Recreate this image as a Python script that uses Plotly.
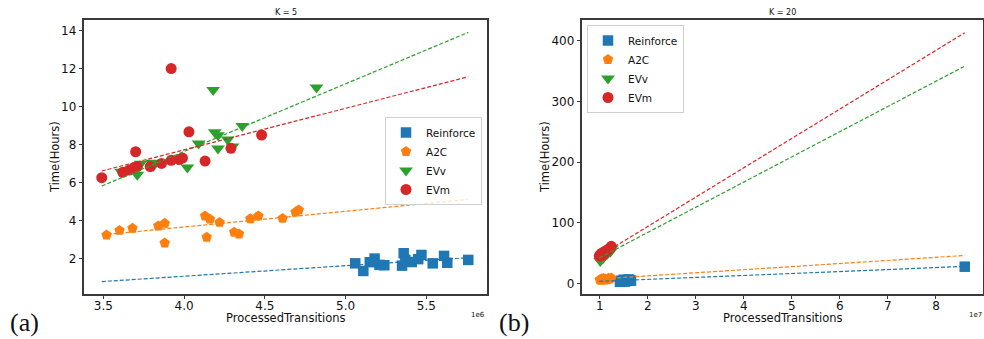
import plotly.graph_objects as go

# ---------------- data: K = 5 (x in units of 1e6 transitions) ----------------
series_names = ["Reinforce", "A2C", "EVv", "EVm"]
series_colors = ["#1f77b4", "#ff7f0e", "#2ca02c", "#d62728"]
series_symbols = ["square", "pentagon", "triangle-down", "circle"]
series_sizes = [10.5, 11, 12, 11]

reinforce_k5_x = [5.06, 5.11, 5.15, 5.18, 5.21, 5.24, 5.36, 5.35, 5.37, 5.41, 5.45, 5.47, 5.54, 5.61, 5.63, 5.76]
reinforce_k5_y = [1.77, 1.37, 1.83, 2.02, 1.69, 1.67, 2.30, 1.65, 1.95, 1.84, 1.99, 2.21, 1.77, 2.16, 1.80, 1.95]

a2c_k5_x = [3.52, 3.60, 3.68, 3.84, 3.88, 3.88, 4.13, 4.16, 4.14, 4.22, 4.31, 4.34, 4.41, 4.46, 4.61, 4.69, 4.71]
a2c_k5_y = [3.26, 3.50, 3.61, 3.73, 3.87, 2.84, 4.26, 4.09, 3.14, 3.92, 3.40, 3.31, 4.11, 4.26, 4.13, 4.46, 4.57]

evv_k5_x = [3.61, 3.71, 3.73, 3.80, 3.81, 4.02, 4.09, 4.18, 4.19, 4.21, 4.21, 4.27, 4.30, 4.36, 4.82]
evv_k5_y = [6.58, 6.42, 7.00, 7.05, 6.90, 6.80, 8.07, 10.87, 8.65, 8.50, 7.80, 8.28, 7.90, 8.98, 11.00]

evm_k5_x = [3.49, 3.62, 3.66, 3.69, 3.71, 3.70, 3.79, 3.86, 3.92, 3.92, 3.97, 3.99, 4.03, 4.13, 4.29, 4.48]
evm_k5_y = [6.27, 6.55, 6.67, 6.79, 6.85, 7.63, 6.85, 7.02, 12.00, 7.18, 7.22, 7.30, 8.68, 7.14, 7.81, 8.51]

# linear trend values at the left / right end of the data span
k5_trend_lo = [0.81, 3.26, 5.83, 6.62]
k5_trend_hi = [2.07, 5.13, 13.90, 11.57]

# ---------------- data: K = 20 (x in units of 1e7 transitions) ----------------
reinforce_k20_x = [1.42, 1.45, 1.47, 1.50, 1.52, 1.55, 1.57, 1.60, 1.62, 1.65, 8.60]
reinforce_k20_y = [2.5, 4.5, 3.5, 6.0, 3.0, 5.0, 4.0, 6.5, 5.5, 4.5, 27.5]

a2c_k20_x = [1.00, 1.02, 1.04, 1.06, 1.08, 1.10, 1.12, 1.15, 1.18, 1.21, 1.24]
a2c_k20_y = [6.0, 5.0, 7.5, 6.5, 8.0, 5.5, 7.0, 6.0, 8.5, 7.0, 9.0]

evv_k20_x = [1.01, 1.03, 1.05, 1.07, 1.09, 1.11, 1.13, 1.16, 1.19, 1.22, 1.25]
evv_k20_y = [37, 44, 48, 42, 51, 46, 53, 49, 55, 52, 58]

evm_k20_x = [0.99, 1.01, 1.03, 1.05, 1.07, 1.09, 1.11, 1.13, 1.16, 1.19, 1.22, 1.24]
evm_k20_y = [45, 47, 49, 46, 51, 49, 53, 52, 55, 57, 58, 61]

k20_trend_lo = [3.3, 7.2, 42.0, 45.0]
k20_trend_hi = [28.0, 46.0, 358.0, 413.0]

k5_x_ticks = [3.5, 4.0, 4.5, 5.0, 5.5]
k5_y_ticks = [2, 4, 6, 8, 10, 12, 14]
k20_x_ticks = [1, 2, 3, 4, 5, 6, 7, 8]
k20_y_ticks = [0, 100, 200, 300, 400]

# ---------------- figure ----------------
W, H = 984, 339
FONT = "DejaVu Sans"
AX_COLOR = "#3a3a3a"

fig = go.Figure()

panels = [
    dict(xs=[reinforce_k5_x, a2c_k5_x, evv_k5_x, evm_k5_x],
         ys=[reinforce_k5_y, a2c_k5_y, evv_k5_y, evm_k5_y],
         lo=k5_trend_lo, hi=k5_trend_hi, xa="x", ya="y", legend="legend"),
    dict(xs=[reinforce_k20_x, a2c_k20_x, evv_k20_x, evm_k20_x],
         ys=[reinforce_k20_y, a2c_k20_y, evv_k20_y, evm_k20_y],
         lo=k20_trend_lo, hi=k20_trend_hi, xa="x2", ya="y2", legend="legend2"),
]

for p in panels:
    all_x = [v for xs in p["xs"] for v in xs]
    x_span = [min(all_x), max(all_x)]
    for i, name in enumerate(series_names):
        fig.add_trace(go.Scatter(
            x=p["xs"][i], y=p["ys"][i], mode="markers", name=name,
            marker=dict(symbol=series_symbols[i], size=series_sizes[i],
                        color=series_colors[i], line=dict(width=0)),
            xaxis=p["xa"], yaxis=p["ya"], legend=p["legend"], showlegend=True,
        ))
    for i, name in enumerate(series_names):
        fig.add_trace(go.Scatter(
            x=x_span, y=[p["lo"][i], p["hi"][i]], mode="lines",
            line=dict(color=series_colors[i], width=1.2, dash="4px,2px"),
            xaxis=p["xa"], yaxis=p["ya"], showlegend=False, hoverinfo="skip",
        ))

# plot-area rectangles in pixels
L1, R1 = 84, 487
L2, R2 = 582, 983
TOP, BOT = 20, 294

def px_x(v):
    return v / W

def px_y(v):
    return 1 - v / H

axis_common = dict(
    showline=True, mirror=True, linecolor=AX_COLOR, linewidth=1.5,
    ticks="outside", ticklen=3.5, tickwidth=1, tickcolor=AX_COLOR,
    showgrid=False, zeroline=False,
    tickfont=dict(family=FONT, size=12, color="#111"),
)

legend_common = dict(
    xanchor="left", yanchor="top",
    bgcolor="rgba(255,255,255,0.8)", bordercolor="#d0d0d0", borderwidth=1,
    font=dict(family=FONT, size=10.5, color="#111"), itemwidth=30, tracegroupgap=0,
)

fig.update_layout(
    width=W, height=H,
    margin=dict(l=0, r=0, t=0, b=0),
    paper_bgcolor="white", plot_bgcolor="white",
    font=dict(family=FONT, size=11, color="#111"),
    xaxis=dict(domain=[px_x(L1), px_x(R1)], range=[3.38, 5.876], anchor="y",
               tickvals=k5_x_ticks, tickformat=".1f", ticklabelstandoff=-4, **axis_common),
    yaxis=dict(domain=[px_y(BOT), px_y(TOP)], range=[0.16, 14.55], anchor="x",
               tickvals=k5_y_ticks, **axis_common),
    xaxis2=dict(domain=[px_x(L2), px_x(R2)], range=[0.63, 8.98], anchor="y2",
                tickvals=k20_x_ticks, ticklabelstandoff=-4, **axis_common),
    yaxis2=dict(domain=[px_y(BOT), px_y(TOP)], range=[-17.5, 434], anchor="x2",
                tickvals=k20_y_ticks, **axis_common),
    legend=dict(x=px_x(385), y=px_y(117), **legend_common),
    legend2=dict(x=px_x(587), y=px_y(25), **legend_common),
)

annotations = []

def text(x, y, s, size, **kw):
    d = dict(x=px_x(x), y=px_y(y), xref="paper", yref="paper", text=s,
             showarrow=False, font=dict(family=kw.pop("family", FONT), size=size, color="#111"),
             xanchor=kw.pop("xanchor", "center"), yanchor=kw.pop("yanchor", "middle"))
    d.update(kw)
    annotations.append(d)

# panel titles
text((L1 + R1) / 2, 12, "K = 5", 8)
text((L2 + R2) / 2, 12, "K = 20", 8)
# axis titles
text((L1 + R1) / 2, 318, "ProcessedTransitions", 11.5)
text((L2 + R2) / 2, 318, "ProcessedTransitions", 11.5)
text(55, (TOP + BOT) / 2, "Time(Hours)", 11.5, textangle=-90)
text(545, (TOP + BOT) / 2, "Time(Hours)", 11.5, textangle=-90)
# offset labels
text(R1, 315, "1e6", 7, xanchor="right")
text(R2 + 1, 315, "1e7", 7, xanchor="right")
# sub-figure labels
text(8, 322, "(a)", 26, xanchor="left", family="Liberation Serif")
text(497, 322, "(b)", 26, xanchor="left", family="Liberation Serif")

fig.update_layout(annotations=annotations)

fig.write_html("out.html")
